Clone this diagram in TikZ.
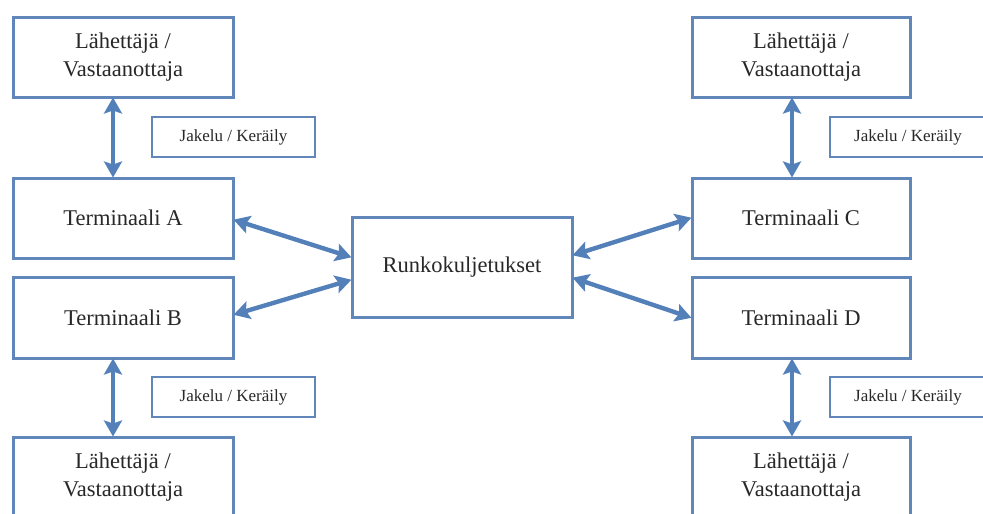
\documentclass[tikz,border=0pt]{standalone}
\usepackage{fontspec}
\setmainfont{Liberation Serif}
\usetikzlibrary{arrows.meta}
\definecolor{boxline}{RGB}{96,134,186}
\definecolor{arrowblue}{RGB}{84,128,186}
\definecolor{txt}{RGB}{40,40,40}
\tikzset{
  bigbox/.style={draw=boxline, line width=3pt, fill=white, minimum width=220pt,
    minimum height=80pt, align=center, font=\fontsize{22.5}{28}\selectfont, text=txt,
    inner sep=0pt},
  smallbox/.style={draw=boxline, line width=2.6pt, fill=white, minimum width=163pt,
    minimum height=40pt, align=center, font=\fontsize{17}{20}\selectfont, text=txt,
    inner sep=0pt},
  twoway/.style={draw=arrowblue, line width=4.4pt,
    {Stealth[length=16pt,width=18pt,inset=3pt]}-{Stealth[length=16pt,width=18pt,inset=3pt]},
    shorten <=-1pt, shorten >=-1pt}
}
\begin{document}
\begin{tikzpicture}[x=1pt,y=-1pt]
\useasboundingbox (0,0) rectangle (983,514);
\clip (0,0) rectangle (983,514);
\fill[white] (0,0) rectangle (983,514);

% left column
\node[bigbox] (L1) at (123,57) {Lähettäjä /\\Vastaanottaja};
\node[smallbox] (JA) at (233.5,137) {Jakelu / Keräily};
\node[bigbox] (TA) at (123,218) {Terminaali A};
\node[bigbox, minimum height=81pt] (TB) at (123,317.5) {Terminaali B};
\node[smallbox] (JB) at (233.5,397) {Jakelu / Keräily};
\node[bigbox] (L2) at (123,477) {Lähettäjä /\\Vastaanottaja};

% trunk transport
\node[bigbox, minimum height=100pt] (R) at (462,267) {Runkokuljetukset};

% right column
\node[bigbox, minimum width=218pt] (L3) at (801,57) {Lähettäjä /\\Vastaanottaja};
\node[smallbox, minimum width=160pt] (JC) at (910,137) {\hspace*{-4pt}Jakelu / Keräily};
\node[bigbox, minimum width=218pt] (TC) at (801,218) {Terminaali C};
\node[bigbox, minimum width=218pt, minimum height=81pt] (TD) at (801,317.5) {Terminaali D};
\node[smallbox, minimum width=160pt] (JD) at (910,397) {\hspace*{-4pt}Jakelu / Keräily};
\node[bigbox, minimum width=218pt] (L4) at (801,477) {Lähettäjä /\\Vastaanottaja};

% local distribution links
\draw[twoway] ([xshift=-10pt]L1.south) -- ([xshift=-10pt]TA.north);
\draw[twoway] ([xshift=-10pt]TB.south) -- ([xshift=-10pt]L2.north);
\draw[twoway] ([xshift=-9pt]L3.south) -- ([xshift=-9pt]TC.north);
\draw[twoway] ([xshift=-9pt]TD.south) -- ([xshift=-9pt]L4.north);

% trunk links
\draw[twoway] ([yshift=-2pt]TA.east) -- ([yshift=10pt]R.west);
\draw[twoway] ([yshift=3pt]TB.east) -- ([yshift=-13pt]R.west);
\draw[twoway] ([yshift=12pt]R.east) -- (TC.west);
\draw[twoway] ([yshift=-11pt]R.east) -- (TD.west);
\end{tikzpicture}
\end{document}
